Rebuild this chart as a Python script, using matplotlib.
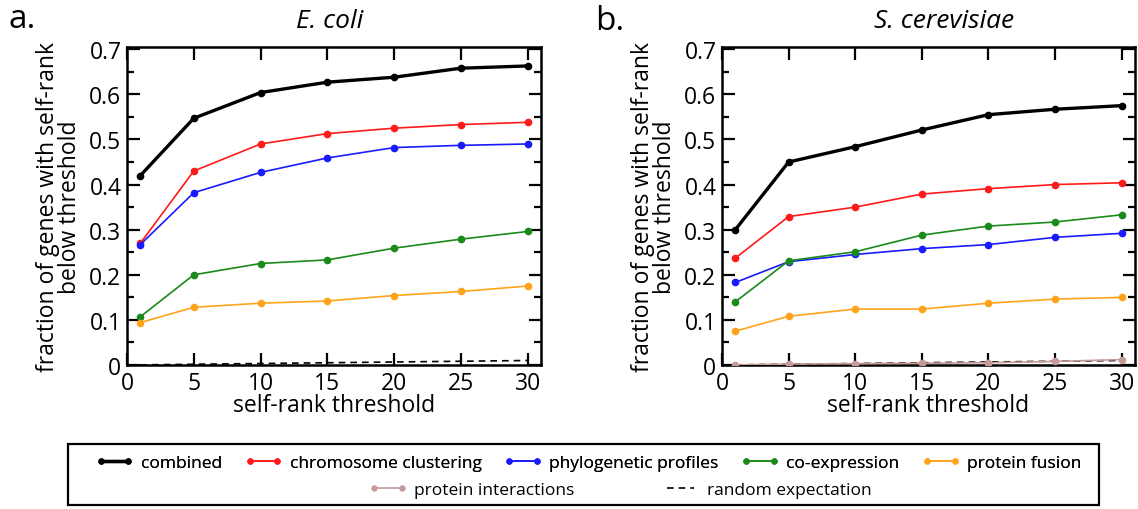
import matplotlib
matplotlib.use("Agg")
import matplotlib.pyplot as plt
from matplotlib.patches import Rectangle
from matplotlib.ticker import MultipleLocator

plt.rcParams['font.family'] = ['Open Sans', 'DejaVu Sans']

thresholds = [1, 5, 10, 15, 20, 25, 30]

ecoli_combined = [0.420, 0.547, 0.604, 0.627, 0.638, 0.658, 0.663]
ecoli_chrom = [0.270, 0.430, 0.490, 0.513, 0.525, 0.533, 0.538]
ecoli_phylo = [0.267, 0.382, 0.427, 0.459, 0.482, 0.487, 0.490]
ecoli_coexp = [0.107, 0.200, 0.225, 0.233, 0.259, 0.279, 0.296]
ecoli_fusion = [0.094, 0.128, 0.137, 0.142, 0.154, 0.163, 0.175]
ecoli_random = [0.0003, 0.0017, 0.0033, 0.005, 0.0067, 0.0083, 0.010]

yeast_combined = [0.300, 0.450, 0.484, 0.521, 0.555, 0.567, 0.575]
yeast_chrom = [0.237, 0.329, 0.350, 0.379, 0.391, 0.400, 0.404]
yeast_phylo = [0.183, 0.229, 0.245, 0.258, 0.267, 0.283, 0.292]
yeast_coexp = [0.140, 0.231, 0.251, 0.288, 0.308, 0.317, 0.333]
yeast_fusion = [0.075, 0.108, 0.124, 0.124, 0.137, 0.146, 0.150]
yeast_interact = [0.000, 0.002, 0.003, 0.004, 0.005, 0.008, 0.012]
yeast_random = [0.0003, 0.0017, 0.0033, 0.005, 0.0067, 0.0083, 0.010]

labels = ["combined", "chromosome clustering", "phylogenetic profiles",
          "co-expression", "protein fusion", "protein interactions",
          "random expectation"]
colors = {"combined": "black", "chromosome clustering": "#ff1a1a",
          "phylogenetic profiles": "#1a1aff", "co-expression": "#1a8a1a",
          "protein fusion": "#ffa31a", "protein interactions": "#c79a9a"}

fig = plt.figure(figsize=(11.38, 5.10), dpi=100)
W, H = 1138, 510
def ax_rect(x0, x1, y0, y1):
    return [x0 / W, 1 - y1 / H, (x1 - x0) / W, (y1 - y0) / H]

ax1 = fig.add_axes(ax_rect(127, 541, 48, 366))
ax2 = fig.add_axes(ax_rect(722, 1135, 48, 366))

def draw(ax, series, random):
    for name, vals in series:
        lw = 2.4 if name == "combined" else 1.2
        ax.plot(thresholds, vals, color=colors[name], lw=lw, marker='o',
                ms=4.5, label=name, clip_on=True, zorder=3)
    ax.plot(thresholds, random, color='black', lw=1.2, ls=(0, (4, 3)),
            label="random expectation", zorder=2)
    ax.set_xlim(0, 31)
    ax.set_ylim(0, 0.705)
    ax.set_xticks([0, 5, 10, 15, 20, 25, 30])
    ax.set_yticks([0, 0.1, 0.2, 0.3, 0.4, 0.5, 0.6, 0.7])
    ax.set_yticklabels(["0", "0.1", "0.2", "0.3", "0.4", "0.5", "0.6", "0.7"])
    ax.yaxis.set_minor_locator(MultipleLocator(0.05))
    ax.tick_params(which='both', direction='in', top=True, right=True,
                   width=1.6, labelsize=16.5, pad=4)
    ax.tick_params(which='major', length=9)
    ax.tick_params(which='minor', length=5)
    for s in ax.spines.values():
        s.set_linewidth(1.8)
    ax.set_xlabel("self-rank threshold", fontsize=16.5, labelpad=-1)
    ax.set_ylabel("fraction of genes with self-rank\nbelow threshold",
                  fontsize=16.5, linespacing=0.92, labelpad=5)

draw(ax1, [("combined", ecoli_combined), ("chromosome clustering", ecoli_chrom),
           ("phylogenetic profiles", ecoli_phylo), ("co-expression", ecoli_coexp),
           ("protein fusion", ecoli_fusion)], ecoli_random)
draw(ax2, [("combined", yeast_combined), ("chromosome clustering", yeast_chrom),
           ("phylogenetic profiles", yeast_phylo), ("co-expression", yeast_coexp),
           ("protein fusion", yeast_fusion), ("protein interactions", yeast_interact)],
     yeast_random)

fig.text(330 / W, 1 - 22 / H, "E. coli", fontsize=19, style='italic',
         ha='center', va='center')
fig.text(944 / W, 1 - 22 / H, "S. cerevisiae", fontsize=19, style='italic',
         ha='center', va='center')
fig.text(8 / W, 1 - 20 / H, "a.", fontsize=24, va='center', ha='left')
fig.text(595 / W, 1 - 22 / H, "b.", fontsize=24, va='center', ha='left')

# Legend
handles = {}
for line in ax2.get_lines():
    handles[line.get_label()] = line
row1 = labels[:5]
row2 = labels[5:]
leg1 = fig.legend([handles[l] for l in row1], row1, ncol=5, frameon=False,
                  loc='center', bbox_to_anchor=(0.517, 1 - 464 / H), fontsize=12.5,
                  handlelength=2.2, columnspacing=1.3, handletextpad=0.4,
                  numpoints=2, markerscale=0.8)
fig.add_artist(leg1)
leg2 = fig.legend([handles[l] for l in row2], row2, ncol=2, frameon=False,
                  loc='center', bbox_to_anchor=(0.545, 1 - 491 / H), fontsize=12.5,
                  handlelength=2.2, columnspacing=5.0, handletextpad=0.4,
                  numpoints=2, markerscale=0.8)
fig.patches.append(Rectangle((68 / W, 1 - 506 / H), (1099 - 68) / W, (506 - 445) / H,
                             transform=fig.transFigure, fill=False, lw=1.6,
                             edgecolor='black'))

fig.savefig("out.png", dpi=100)
